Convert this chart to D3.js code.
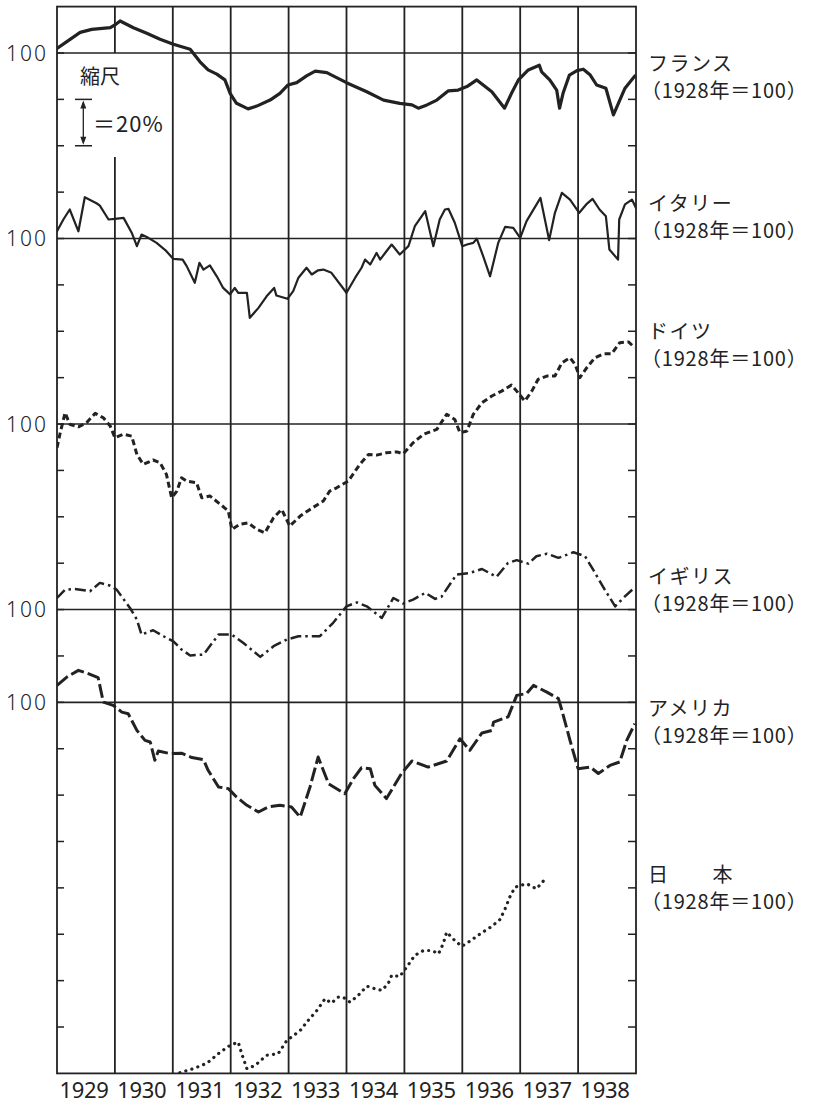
<!DOCTYPE html>
<html>
<head>
<meta charset="utf-8">
<script src="https://cdn.jsdelivr.net/npm/d3@7"></script>
<style>
  html, body { margin: 0; padding: 0; background: #fff; }
  svg { display: block; }
  text { font-family: "Noto Sans CJK JP", "Noto Sans", sans-serif; fill: #222; }
  text.num { font-family: "Noto Sans", "DejaVu Sans", sans-serif; }
</style>
</head>
<body>
<svg id="chart" width="825" height="1105"></svg>
<script>
// ---------- DATA (decimal year, index 1928 = 100) ----------
const years = [1929, 1930, 1931, 1932, 1933, 1934, 1935, 1936, 1937, 1938];
const countryNames = ["フランス", "イタリー", "ドイツ", "イギリス", "アメリカ", "日　　本"];
const baseLabel = "（1928年＝100）";

const franceT = [1929.00,1929.17,1929.40,1929.60,1929.92,1930.00,1930.09,1930.32,1930.55,1930.78,1931.01,1931.30,1931.47,1931.61,1931.76,1931.90,1931.99,1932.10,1932.30,1932.45,1932.68,1932.85,1932.99,1933.14,1933.31,1933.46,1933.66,1933.77,1934.00,1934.35,1934.64,1934.92,1935.13,1935.24,1935.39,1935.56,1935.76,1935.93,1936.08,1936.25,1936.51,1936.73,1936.85,1936.97,1937.14,1937.33,1937.37,1937.51,1937.63,1937.68,1937.74,1937.85,1937.98,1938.09,1938.21,1938.32,1938.48,1938.61,1938.81,1938.98];
const franceV = [102.0,104.9,108.9,110.2,110.9,112.1,113.8,110.9,108.5,105.9,103.8,101.6,96.2,92.7,90.9,88.4,82.6,78.3,75.9,77.1,79.7,82.6,86.2,87.2,90.1,92.2,91.5,90.1,87.2,83.3,79.7,78.3,77.6,76.2,77.6,79.7,83.7,84.0,85.5,88.4,83.3,76.2,82.6,88.4,92.7,94.7,91.9,88.4,84.0,76.2,82.6,90.5,92.4,93.0,90.5,86.2,84.8,73.3,84.8,90.1];

const italyT = [1929.00,1929.11,1929.22,1929.37,1929.48,1929.69,1929.74,1929.89,1930.00,1930.15,1930.29,1930.38,1930.46,1930.55,1930.72,1930.87,1931.01,1931.17,1931.24,1931.38,1931.46,1931.53,1931.64,1931.76,1931.87,1931.99,1932.07,1932.13,1932.28,1932.33,1932.48,1932.62,1932.75,1932.79,1932.98,1933.08,1933.17,1933.31,1933.40,1933.51,1933.60,1933.74,1934.00,1934.15,1934.26,1934.32,1934.41,1934.52,1934.58,1934.69,1934.78,1934.92,1935.07,1935.18,1935.36,1935.50,1935.61,1935.70,1935.76,1935.87,1936.00,1936.08,1936.19,1936.25,1936.36,1936.48,1936.62,1936.74,1936.88,1937.00,1937.11,1937.35,1937.50,1937.60,1937.72,1937.86,1938.02,1938.14,1938.25,1938.37,1938.48,1938.54,1938.69,1938.71,1938.81,1938.93,1939.00];
const italyV = [103.1,108.2,112.5,103.1,117.8,115.1,114.2,108.2,108.5,108.9,102.5,96.7,101.7,100.7,98.1,95.0,91.2,90.9,88.1,80.9,89.5,86.6,88.4,83.7,78.7,75.9,78.7,76.6,76.6,65.8,70.1,75.1,78.7,75.4,74.0,77.3,83.1,87.4,84.5,86.3,86.6,85.2,76.6,83.1,87.4,90.9,88.8,93.8,90.9,94.5,97.4,93.1,96.7,105.3,111.8,96.7,108.2,112.5,112.8,106.8,96.7,97.4,98.1,99.9,92.4,83.7,98.1,105.0,104.6,100.3,107.5,117.5,99.3,111.1,119.7,116.8,111.1,114.7,117.1,112.5,109.6,95.3,90.9,108.2,114.7,116.8,113.2];

const germanyT = [1929.00,1929.05,1929.14,1929.22,1929.37,1929.51,1929.66,1929.80,1929.92,1930.00,1930.15,1930.29,1930.38,1930.49,1930.66,1930.78,1930.89,1930.98,1931.07,1931.15,1931.24,1931.41,1931.50,1931.64,1931.82,1931.96,1932.02,1932.16,1932.30,1932.45,1932.59,1932.74,1932.88,1933.02,1933.20,1933.37,1933.60,1933.71,1933.83,1934.03,1934.23,1934.38,1934.52,1934.69,1934.87,1934.98,1935.15,1935.33,1935.56,1935.73,1935.87,1935.96,1936.08,1936.19,1936.34,1936.51,1936.68,1936.85,1936.94,1937.08,1937.20,1937.31,1937.46,1937.60,1937.72,1937.86,1937.95,1938.03,1938.15,1938.29,1938.44,1938.58,1938.72,1938.87,1938.98];
const germanyV = [89.8,95.6,104.9,99.9,98.8,100.6,104.6,102.7,99.1,94.1,95.6,94.8,86.9,82.6,84.5,83.3,78.3,68.2,71.1,76.8,75.4,74.7,68.2,69.0,65.4,62.5,54.6,56.8,57.4,54.6,53.1,59.6,63.2,56.0,60.3,63.2,66.8,71.1,72.5,75.4,82.6,86.9,86.6,87.6,88.0,87.2,91.9,95.6,97.7,104.2,102.0,96.2,97.0,104.2,109.2,112.1,114.2,116.8,114.2,109.9,114.2,119.3,120.7,120.7,126.4,128.6,125.7,120.0,124.3,128.6,130.3,130.3,135.1,135.4,132.9];

const britainT = [1929.00,1929.14,1929.31,1929.57,1929.74,1929.92,1930.03,1930.26,1930.38,1930.46,1930.66,1930.84,1931.01,1931.15,1931.30,1931.53,1931.79,1932.02,1932.22,1932.51,1932.74,1932.97,1933.17,1933.54,1933.77,1934.00,1934.18,1934.35,1934.61,1934.81,1934.98,1935.15,1935.36,1935.53,1935.64,1935.90,1936.13,1936.34,1936.59,1936.79,1936.94,1937.14,1937.28,1937.46,1937.66,1937.92,1938.12,1938.26,1938.46,1938.64,1938.78,1938.95];
const britainV = [105.0,108.6,108.9,107.9,111.5,110.3,108.6,100.7,95.7,89.2,91.1,88.5,86.3,82.8,80.2,80.6,89.2,89.2,85.6,79.6,84.2,87.1,88.5,88.5,94.3,101.4,103.1,101.4,96.4,105.0,102.6,104.3,107.2,104.6,105.5,115.1,115.8,117.5,114.1,120.1,121.3,119.8,123.0,124.1,122.3,124.7,123.0,117.2,108.6,101.4,105.0,108.9];

const usaT = [1929.00,1929.17,1929.37,1929.54,1929.71,1929.80,1929.97,1930.12,1930.23,1930.38,1930.52,1930.61,1930.69,1930.75,1930.95,1931.15,1931.33,1931.53,1931.61,1931.79,1931.96,1932.10,1932.28,1932.48,1932.65,1932.85,1933.05,1933.20,1933.37,1933.51,1933.69,1933.97,1934.12,1934.26,1934.41,1934.49,1934.69,1934.95,1935.13,1935.41,1935.73,1935.96,1936.13,1936.34,1936.51,1936.54,1936.79,1936.94,1937.11,1937.23,1937.46,1937.66,1937.72,1937.86,1938.00,1938.21,1938.35,1938.55,1938.72,1938.84,1938.98];
const usaV = [107.3,110.9,113.8,112.4,110.7,100.1,98.7,95.8,95.1,87.9,83.6,82.9,75.0,79.0,77.9,78.1,76.2,75.3,70.7,63.5,62.8,59.2,55.6,52.7,54.9,55.6,54.9,50.5,63.5,76.4,64.9,60.6,67.1,71.8,71.4,64.2,58.5,69.3,74.7,72.1,74.7,84.3,79.3,86.8,87.9,91.5,93.7,103.0,103.8,107.3,104.4,101.6,96.6,83.6,71.4,72.1,69.3,72.8,74.3,83.6,90.8];

const japanT = [1931.12,1931.35,1931.59,1931.82,1931.99,1932.13,1932.19,1932.28,1932.42,1932.62,1932.82,1932.97,1933.20,1933.34,1933.49,1933.63,1933.74,1933.86,1933.94,1934.06,1934.20,1934.35,1934.49,1934.61,1934.72,1934.78,1934.92,1935.04,1935.18,1935.33,1935.47,1935.59,1935.67,1935.73,1935.87,1935.99,1936.13,1936.31,1936.51,1936.65,1936.74,1936.82,1936.91,1937.11,1937.28,1937.46];
const japanV = [100.3,102.0,104.4,109.2,112.1,113.5,108.5,102.0,103.4,107.8,108.5,114.2,118.5,122.9,127.2,132.2,130.3,132.9,132.9,130.7,133.6,137.6,136.5,135.8,138.7,142.3,141.8,145.8,150.9,153.0,153.0,151.6,155.9,160.9,157.3,154.8,157.0,160.2,163.4,166.3,171.0,176.0,180.3,181.8,179.6,184.6];

// vertical shift of each panel's 100 line, in index points (20 points per tick)
const panelShift = [0, -80, -160, -240, -280, -440];

// ---------- LAYOUT ----------
const svg = d3.select("#chart");
const pLeft = 57, pRight = 636, pTop = 6.6, pBottom = 1073.4;
const x = d3.scaleLinear().domain([1929, 1939]).range([pLeft, pRight]);
// index points offset from France 100 line: +20 at top, -440 at bottom
const y = d3.scaleLinear().domain([20, -440]).range([pTop, pBottom]);
const ink = "#222";

svg.append("defs").append("clipPath").attr("id", "plot")
  .append("rect").attr("x", pLeft).attr("y", pTop).attr("width", pRight - pLeft).attr("height", pBottom - pTop);

const g = svg.append("g");

// ticks (every 20 points) on both sides
const tickVals = d3.range(0, -440, -20);
tickVals.forEach(v => {
  g.append("line").attr("x1", pLeft).attr("x2", pLeft + 7).attr("y1", y(v)).attr("y2", y(v))
    .attr("stroke", ink).attr("stroke-width", 1.5);
  g.append("line").attr("x1", pRight - 8).attr("x2", pRight).attr("y1", y(v)).attr("y2", y(v))
    .attr("stroke", ink).attr("stroke-width", 1.5);
});

// vertical year lines
const bounds = years.slice(1);
bounds.forEach(yr => {
  if (yr === 1930) {
    g.append("line").attr("x1", x(yr)).attr("x2", x(yr)).attr("y1", pTop).attr("y2", y(0))
      .attr("stroke", ink).attr("stroke-width", 1.8);
    g.append("line").attr("x1", x(yr)).attr("x2", x(yr)).attr("y1", 157).attr("y2", pBottom)
      .attr("stroke", ink).attr("stroke-width", 1.8);
  } else {
    g.append("line").attr("x1", x(yr)).attr("x2", x(yr)).attr("y1", pTop).attr("y2", pBottom)
      .attr("stroke", ink).attr("stroke-width", 1.8);
  }
});

// 100 reference lines (Japan's lies on the bottom frame)
panelShift.slice(0, 5).forEach(s => {
  g.append("line").attr("x1", pLeft).attr("x2", pRight).attr("y1", y(s)).attr("y2", y(s))
    .attr("stroke", ink).attr("stroke-width", 1.6);
  g.append("text").attr("class", "num").attr("x", 48).attr("y", y(s)).attr("dy", "0.36em")
    .attr("text-anchor", "end").attr("font-size", 21).attr("letter-spacing", 2)
    .attr("font-weight", 300).text("100");
});

// frame
g.append("rect").attr("x", pLeft).attr("y", pTop).attr("width", pRight - pLeft).attr("height", pBottom - pTop)
  .attr("fill", "none").attr("stroke", ink).attr("stroke-width", 1.8);

// series
const series = [
  {t: franceT, v: franceV, w: 3.2, dash: null, cap: "round"},
  {t: italyT, v: italyV, w: 2.2, dash: null, cap: "round"},
  {t: germanyT, v: germanyV, w: 3.0, dash: "6,3.5", cap: "butt"},
  {t: britainT, v: britainV, w: 2.5, dash: "11,4,2.5,4", cap: "butt"},
  {t: usaT, v: usaV, w: 3.0, dash: "14,4", cap: "butt"},
  {t: japanT, v: japanV, w: 3.2, dash: "0.1,6.2", cap: "round"}
];
const line = d3.line();
const sg = svg.append("g").attr("clip-path", "url(#plot)");
series.forEach((s, i) => {
  const pts = s.t.map((t, j) => [x(t), y(panelShift[i] + s.v[j] - 100)]);
  sg.append("path").attr("d", line(pts))
    .attr("fill", "none").attr("stroke", ink).attr("stroke-width", s.w)
    .attr("stroke-linejoin", "round").attr("stroke-linecap", s.cap)
    .attr("stroke-dasharray", s.dash);
});

// right-hand labels
const labelY = [64, 204, 332, 577, 709, 875];
countryNames.forEach((name, i) => {
  svg.append("text").attr("x", 648).attr("y", labelY[i]).attr("dy", "0.36em")
    .attr("font-size", 20).attr("letter-spacing", 1.5).text(name);
  svg.append("text").attr("x", 641).attr("y", labelY[i] + 27).attr("dy", "0.36em")
    .attr("font-size", 20).attr("letter-spacing", 0.8).text(baseLabel);
});

// year labels
years.forEach(yr => {
  svg.append("text").attr("class", "num").attr("x", x(yr + 0.5) - 2).attr("y", 1090).attr("dy", "0.36em")
    .attr("text-anchor", "middle").attr("font-size", 22).attr("letter-spacing", -0.3).text(yr);
});

// scale annotation
svg.append("text").attr("x", 100).attr("y", 77).attr("dy", "0.36em")
  .attr("text-anchor", "middle").attr("font-size", 20).text("縮尺");
const bx = 83.3, by1 = y(0) + 46.4, by2 = y(-20) + 46.4;
svg.append("line").attr("x1", bx).attr("x2", bx).attr("y1", by1 + 3).attr("y2", by2 - 3)
  .attr("stroke", ink).attr("stroke-width", 1.3);
[by1, by2].forEach(yy => {
  svg.append("line").attr("x1", 75).attr("x2", 92).attr("y1", yy).attr("y2", yy)
    .attr("stroke", ink).attr("stroke-width", 1.5);
});
svg.append("path").attr("d", `M${bx},${by1 + 1} l-3,8 l6,0 z M${bx},${by2 - 1} l-3,-8 l6,0 z`)
  .attr("fill", ink);
svg.append("text").attr("x", 93).attr("y", (by1 + by2) / 2 + 2).attr("dy", "0.36em")
  .attr("font-size", 22).attr("letter-spacing", 1).text("＝20%");
</script>
</body>
</html>
